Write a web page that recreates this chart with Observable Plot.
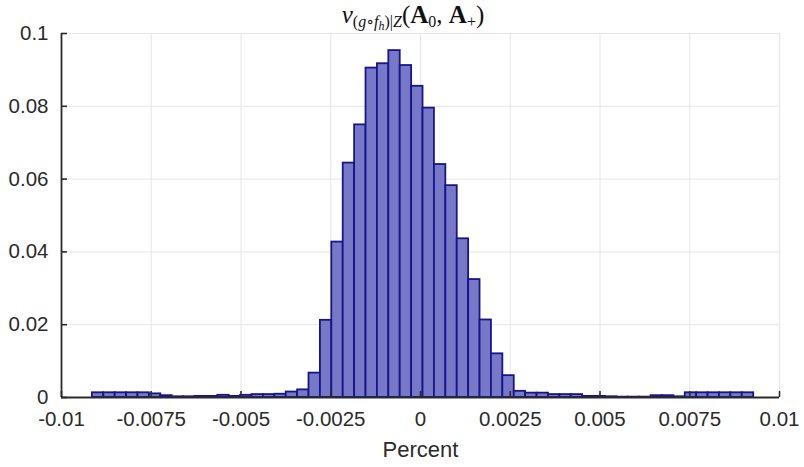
<!DOCTYPE html>
<html>
<head>
<meta charset="utf-8">
<script src="https://cdn.jsdelivr.net/npm/d3@7"></script>
<script src="https://cdn.jsdelivr.net/npm/@observablehq/plot@0.6"></script>
<style>
  html, body { margin: 0; padding: 0; background: #fff; }
  #wrap { position: relative; width: 804px; height: 467px; }
  #title {
    position: absolute; left: 0; top: 0; width: 826px; text-align: center;
    font-family: "Liberation Serif", "DejaVu Serif", serif; font-size: 25px; color: #111;
    line-height: 30px; white-space: nowrap;
  }
  #title sub { font-size: 16px; vertical-align: -4px; line-height: 0; }
  #title sub sub { font-size: 12px; vertical-align: -3px; }
</style>
</head>
<body>
<div id="wrap">
  <div id="title"><i>v</i><sub>(<i>g</i>∘<i>f</i><sub><i>h</i></sub>)|<i>Z</i></sub>(<b>A</b><sub>0</sub>, <b>A</b><sub>+</sub>)</div>
  <div id="chart"></div>
</div>
<script>
// Histogram bins (edges from start + i * width)
const binStart = -0.00914;
const binWidth = 0.0003176;
// Relative frequency per bin
const binValues = [
  0.0013, 0.0013, 0.0013, 0.0013, 0.0013, 0.0010, 0.0005, 0.0002, 0.0002, 0.0003,
  0.0003, 0.0006, 0.0003, 0.0006, 0.0008, 0.0008, 0.0009, 0.0015, 0.0021, 0.0067,
  0.0212, 0.0427, 0.0644, 0.0749, 0.0905, 0.0917, 0.0953, 0.0912, 0.0855, 0.0795,
  0.0640, 0.0582, 0.0436, 0.0324, 0.0213, 0.0120, 0.0060, 0.0017, 0.0012, 0.0012,
  0.0008, 0.0008, 0.0008, 0.0003, 0.0003, 0.0002, 0.0001, 0.0001, 0.0001, 0.0005,
  0.0005, 0.0002, 0.0013, 0.0013, 0.0013, 0.0013, 0.0013, 0.0013
];
const xTicks = [-0.01, -0.0075, -0.005, -0.0025, 0, 0.0025, 0.005, 0.0075, 0.01];
const xTickLabels = ["-0.01", "-0.0075", "-0.005", "-0.0025", "0", "0.0025", "0.005", "0.0075", "0.01"];
const yTicks = [0, 0.02, 0.04, 0.06, 0.08, 0.1];
const yTickLabels = ["0", "0.02", "0.04", "0.06", "0.08", "0.1"];
const xLabel = "Percent";

const bins = binValues.map((v, i) => ({
  x1: binStart + i * binWidth,
  x2: binStart + (i + 1) * binWidth,
  v
}));

const W = 804, H = 467;
const mL = 61, mR = 25, mT = 33, mB = 70;
const frameW = W - mL - mR, frameH = H - mT - mB;
const axisColor = "#2b2b2b";
const font = "'Liberation Sans', Arial, Helvetica, sans-serif";

const chart = Plot.plot({
  width: W, height: H,
  marginLeft: mL, marginRight: mR, marginTop: mT, marginBottom: mB,
  style: { fontFamily: font, fontSize: "20.5px", color: axisColor, background: "#fff" },
  x: { domain: [-0.01, 0.01] },
  y: { domain: [0, 0.1] },
  marks: [
    Plot.gridX(xTicks, { stroke: "#e6e6e6", strokeOpacity: 1 }),
    Plot.gridY(yTicks, { stroke: "#e6e6e6", strokeOpacity: 1 }),
    Plot.rectY(bins, { x1: "x1", x2: "x2", y: "v", fill: "#7878c8", stroke: "#16168a", strokeWidth: 1.8 }),
    Plot.ruleX([-0.01], { stroke: axisColor, strokeWidth: 1.8 }),
    Plot.ruleY([0], { stroke: axisColor, strokeWidth: 1.8 }),
    Plot.tickX(xTicks, { x: d => d, stroke: axisColor, strokeWidth: 1.6, insetTop: frameH - 6 }),
    Plot.tickY(yTicks, { y: d => d, stroke: axisColor, strokeWidth: 1.6, insetRight: frameW - 6 }),
    Plot.axisX({
      ticks: xTicks, tickSize: 0, tickPadding: 14, fontSize: 20.5,
      tickFormat: d => xTickLabels[xTicks.indexOf(d)],
      label: xLabel, labelAnchor: "center", labelArrow: "none", labelOffset: 59
    }),
    Plot.axisY({
      ticks: yTicks, tickSize: 0, tickPadding: 13, fontSize: 20.5,
      tickFormat: d => yTickLabels[yTicks.indexOf(d)],
      label: null
    })
  ]
});
chart.querySelectorAll("g[aria-label='x-axis label'] text").forEach(t => t.setAttribute("font-size", "22"));
document.getElementById("chart").appendChild(chart);
</script>
</body>
</html>
